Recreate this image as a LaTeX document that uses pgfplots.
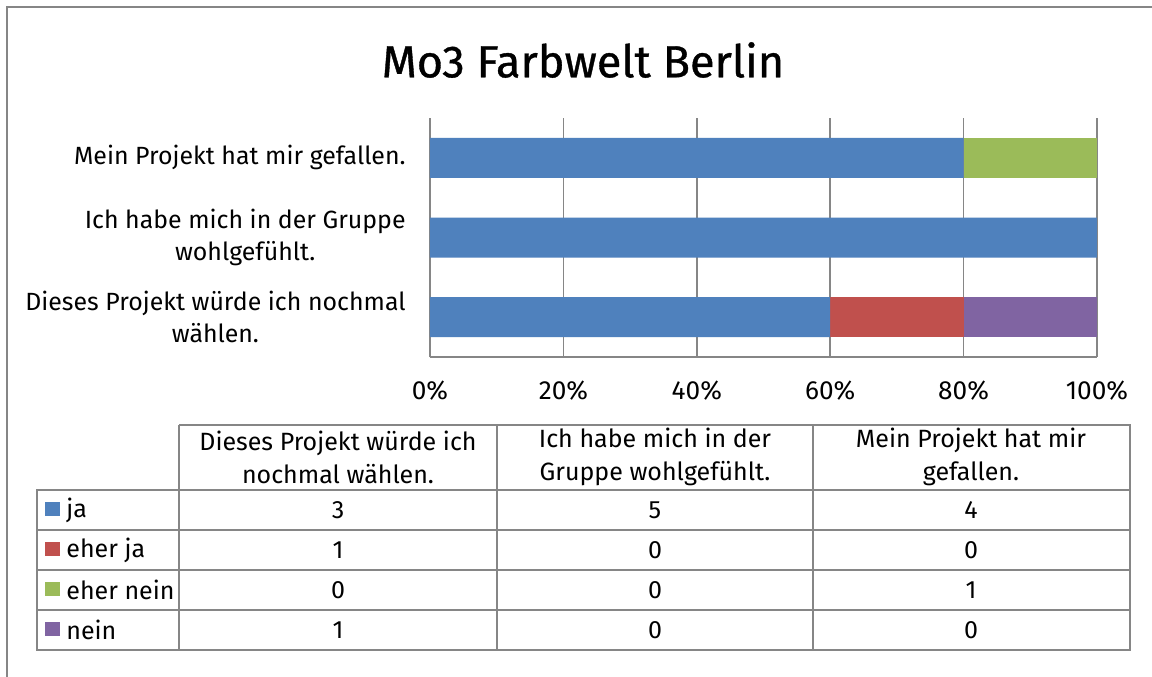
\documentclass[border=0pt]{standalone}
\usepackage{pgfplots}
\pgfplotsset{compat=1.18}
\usepackage{fontspec}
\setmainfont{Fira Sans}
\newfontfamily\titlefont{Fira Sans}[FakeBold=0.8]
\definecolor{cblue}{HTML}{4F81BD}
\definecolor{cred}{HTML}{C0504D}
\definecolor{cgreen}{HTML}{9BBB59}
\definecolor{cpurple}{HTML}{8064A2}
\definecolor{gridgray}{HTML}{868686}
\begin{document}
\begin{tikzpicture}
\useasboundingbox (0,0) rectangle (576pt,-338pt);
\clip (0,0) rectangle (576pt,-338pt);
\fill[white] (0,0) rectangle (576pt,-338pt);
\begin{scope}[x=0.5pt,y=-0.5pt]
\draw[gridgray,line width=1pt] (7,700) -- (7,7) -- (1200,7);
\node[font=\titlefont\fontsize{22.5}{28}\selectfont] at (583,60) {Mo3 Farbwelt Berlin};
\end{scope}
\begin{axis}[
 at={(215pt,-178.5pt)}, anchor=south west,
 scale only axis, width=333.5pt, height=119.5pt,
 xbar stacked, bar width=20pt,
 xmin=0, xmax=5, ymin=0.5, ymax=3.5,
 xtick={0,1,2,3,4,5}, xticklabels={0\%,20\%,40\%,60\%,80\%,100\%},
 ytick={1,2,3},
 yticklabels={{Dieses Projekt würde ich nochmal\\wählen.},{Ich habe mich in der Gruppe\\wohlgefühlt.},{Mein Projekt hat mir gefallen.}},
 axis x line*=bottom, axis y line*=left,
 xmajorgrids, major grid style={draw=gridgray, line width=0.75pt},
 axis line style={draw=gridgray, line width=0.75pt},
 tick style={draw=none},
 /pgf/number format/assume math mode=true,
 yticklabel style={align=center, font=\fontsize{12.45}{16}\selectfont, inner sep=0pt, xshift=-12pt},
 xticklabel style={font=\fontsize{13.1}{16}\selectfont, inner sep=0pt, yshift=-11.5pt},
 every axis plot/.append style={draw=none},
]
\addplot[fill=cblue] coordinates {(3,1) (5,2) (4,3)};
\addplot[fill=cred] coordinates {(1,1) (0,2) (0,3)};
\addplot[fill=cgreen] coordinates {(0,1) (0,2) (1,3)};
\addplot[fill=cpurple] coordinates {(1,1) (0,2) (0,3)};
\end{axis}
\begin{scope}[x=0.5pt,y=-0.5pt,font=\fontsize{12.5}{16.5}\selectfont]
\draw[gridgray,line width=0.75pt] (179,425) -- (1130,425) -- (1130,650) -- (37,650) -- (37,490) -- (1130,490);
\foreach \yy in {530,570,610} \draw[gridgray,line width=0.75pt] (37,\yy) -- (1130,\yy);
\foreach \xx in {179,497,813} \draw[gridgray,line width=0.75pt] (\xx,425) -- (\xx,650);
\node[align=center] at (338,457) {Dieses Projekt würde ich\\nochmal wählen.};
\node[align=center] at (655,457) {Ich habe mich in der\\Gruppe wohlgefühlt.};
\node[align=center] at (971,457) {Mein Projekt hat mir\\gefallen.};
\fill[cblue] (45,502) rectangle (60,516);
\fill[cred] (45,542) rectangle (60,556);
\fill[cgreen] (45,582) rectangle (60,596);
\fill[cpurple] (45,622) rectangle (60,636);
\node[anchor=west,inner sep=0pt] at (66,510) {ja};
\node[anchor=west,inner sep=0pt] at (66,550) {eher ja};
\node[anchor=west,inner sep=0pt] at (66,590) {eher nein};
\node[anchor=west,inner sep=0pt] at (66,630) {nein};
\node at (338,510) {3}; \node at (655,510) {5}; \node at (971,510) {4};
\node at (338,550) {1}; \node at (655,550) {0}; \node at (971,550) {0};
\node at (338,590) {0}; \node at (655,590) {0}; \node at (971,590) {1};
\node at (338,630) {1}; \node at (655,630) {0}; \node at (971,630) {0};
\end{scope}
\end{tikzpicture}
\end{document}
